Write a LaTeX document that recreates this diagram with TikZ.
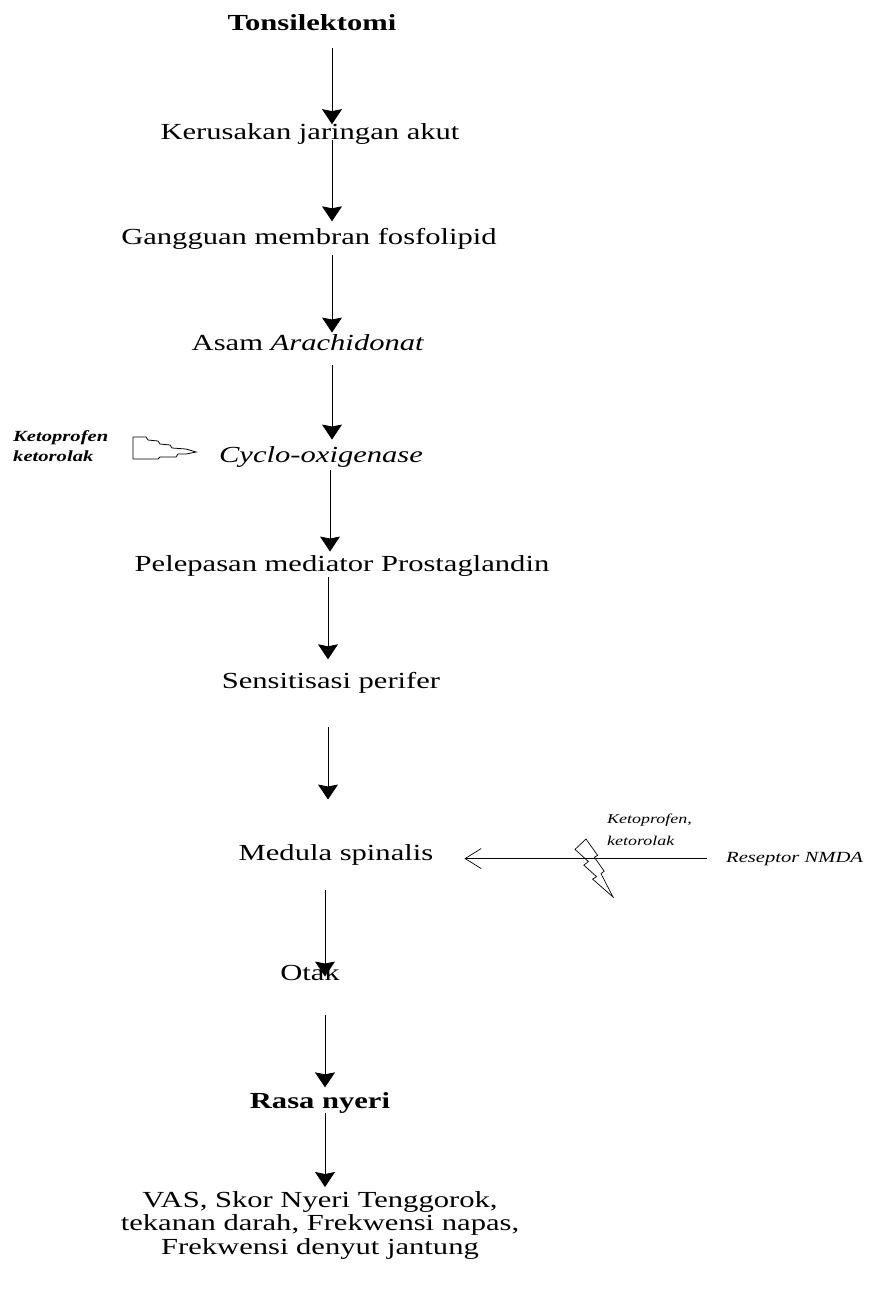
\documentclass[tikz,border=0pt]{standalone}
\usepackage{fontspec}
\setmainfont{Liberation Serif}[FakeStretch=1.33]
\usetikzlibrary{arrows.meta}
\begin{document}
\begin{tikzpicture}[x=1pt,y=-1pt,
  lbl/.style={inner sep=0pt, anchor=base, font=\fontsize{23}{24}\selectfont},
  flow/.style={draw, line width=0.8pt, -{Stealth[length=15pt,width=20pt,inset=2pt]}},
  side/.style={inner sep=0pt, align=left, anchor=north west},
  barb/.style={draw, line width=0.6pt, -{Straight Barb[length=16pt,width=20pt,line width=0.7pt]}},
  bolt/.style={draw, line width=0.7pt, line join=miter}
]
\useasboundingbox (0,0) rectangle (875,1302);

% main column
\node[lbl] (ton)  at (312,30)  {\textbf{Tonsilektomi}};
\node[lbl] (ker)  at (310,139) {Kerusakan jaringan akut};
\node[lbl] (gan)  at (309,244) {Gangguan membran fosfolipid};
\node[lbl] (asam) at (308,350) {Asam \textit{Arachidonat}};
\node[lbl] (cyc)  at (321,462) {\textit{Cyclo-oxigenase}};
\node[lbl] (pel)  at (342,571) {Pelepasan mediator Prostaglandin};
\node[lbl] (sen)  at (331,688) {Sensitisasi perifer};
\node[lbl] (med)  at (336,860) {Medula spinalis};
\node[lbl] (otak) at (310,980) {Otak};
\node[lbl] (rasa) at (320,1108) {\textbf{Rasa nyeri}};
\node[inner sep=0pt, anchor=north, align=center, font=\fontsize{23}{23.5}\selectfont]
  (vas) at (320,1191) {VAS, Skor Nyeri Tenggorok,\\tekanan darah, Frekwensi napas,\\Frekwensi denyut jantung};

% side labels
\node[side, font=\fontsize{15.5}{20}\selectfont\bfseries\itshape] (kl) at (13,430) {Ketoprofen\\ketorolak};
\node[side, font=\fontsize{13.5}{22}\selectfont\itshape] (kr) at (607,814) {Ketoprofen,\\ketorolak};
\node[inner sep=0pt, anchor=base west, font=\fontsize{15.5}{18}\selectfont\itshape] (nmda) at (726,862) {Reseptor NMDA};

% column coordinates
\coordinate (c1) at (332,0);
\coordinate (c5) at (330,0);
\coordinate (c6) at (328,0);
\coordinate (c8) at (325,0);

% vertical arrows
\draw[flow, shorten <=18pt, shorten >=-1.3pt] (ton.south -| c1) -- (ker.north -| c1);
\draw[flow, shorten <=-4pt, shorten >=6.3pt] (ker.south -| c1) -- (gan.north -| c1);
\draw[flow, shorten <=6pt, shorten >=1.3pt] (gan.south -| c1) -- (asam.north -| c1);
\draw[flow, shorten <=15pt, shorten >=6.3pt] (asam.south -| c1) -- (cyc.north -| c1);
\draw[flow, shorten <=3pt, shorten >=3.3pt] (cyc.south -| c5) -- (pel.north -| c5);
\draw[flow, shorten <=1pt, shorten >=12.3pt] (pel.south -| c6) -- (sen.north -| c6);
\draw[flow, shorten <=34pt, shorten >=44.3pt] (sen.south -| c6) -- (med.north -| c6);
\draw[flow, shorten <=25pt, shorten >=-12.7pt] (med.south -| c8) -- (otak.north -| c8);
\draw[flow, shorten <=34.7pt, shorten >=4.5pt] (otak.south -| c8) -- (rasa.north -| c8);
\draw[flow, shorten <=0pt, shorten >=4pt] (rasa.south -| c8) -- (vas.north -| c8);

% NMDA arrow
\draw[barb, shorten <=19pt, shorten >=31pt] (nmda.west) -- (nmda.west -| med.east);

% lightning bolt
\draw[bolt] (586,839) -- (597.6,855.3) -- (594.4,857.3) -- (604.2,871.2) -- (601.0,873.6)
  -- (613,897) -- (592.6,879.1) -- (596.5,876.6) -- (583.8,865.1) -- (588.4,861.5)
  -- (575,849.4) -- cycle;

% jagged block arrow (COX inhibition)
\draw[bolt, line width=0.8pt] (133,437) -- (146,437) -- (148,440) -- (158,441) -- (160,444)
  -- (170,445) -- (172,448) -- (186,449) -- (196,452) -- (186,454) -- (178,454)
  -- (176,457) -- (160,457) -- (158,459) -- (133,459) -- cycle;
\end{tikzpicture}
\end{document}
